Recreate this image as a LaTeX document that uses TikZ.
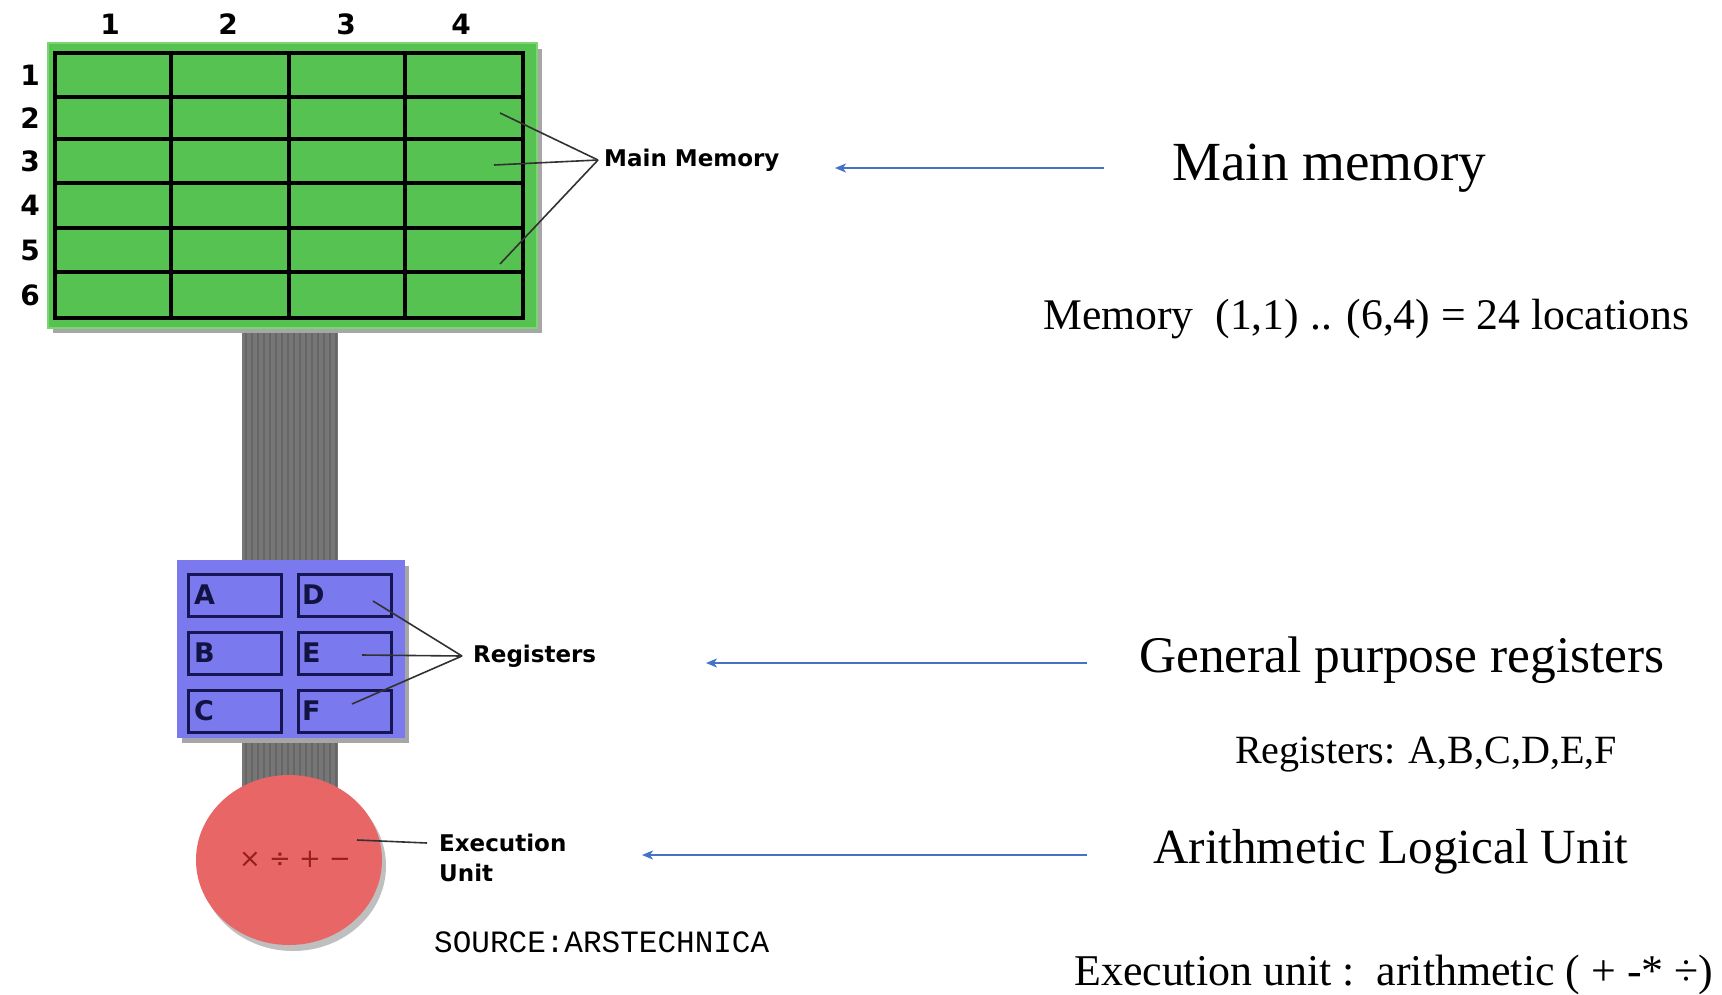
\documentclass[tikz,border=0pt]{standalone}
\usepackage{fontspec}
\usepackage{graphicx}
\setmainfont{Liberation Serif}
\newfontfamily\dvs{DejaVu Sans}
\newfontfamily\monof{Liberation Mono}
\usetikzlibrary{arrows.meta,shapes.geometric}
\definecolor{memgreen}{RGB}{86,194,82}
\definecolor{memborder}{RGB}{125,212,115}
\definecolor{regblue}{RGB}{122,122,238}
\definecolor{cellborder}{RGB}{22,22,84}
\definecolor{alured}{RGB}{232,102,102}
\definecolor{symred}{RGB}{150,30,30}
\definecolor{arrowblue}{RGB}{68,114,196}
\definecolor{busgray}{RGB}{118,118,118}
\definecolor{leadergray}{RGB}{50,50,50}
\begin{document}
\begin{tikzpicture}[x=1pt,y=-1pt,
  memblock/.style={draw=memborder, line width=2pt, fill=memgreen, minimum width=489pt, minimum height=285pt, inner sep=0},
  gridline/.style={line width=3.5pt, black},
  num/.style={font=\dvs\bfseries\fontsize{28}{32}\selectfont, inner sep=0},
  lbl/.style={font=\dvs\bfseries\fontsize{23}{30}\selectfont, inner sep=0, anchor=west},
  leader/.style={leadergray, line width=1.6pt},
  bluearrow/.style={draw=arrowblue, line width=1.8pt, -{Stealth[length=11pt,width=9pt,inset=3pt]}},
  rt/.style={inner sep=0, anchor=base west},
  regbox/.style={fill=regblue, minimum width=228pt, minimum height=178pt, inner sep=0},
  cell/.style={draw=cellborder, line width=3pt, minimum width=93pt, minimum height=42pt, inner sep=0},
  letter/.style={font=\dvs\bfseries\fontsize{27}{30}\selectfont, text=cellborder!80!black, inner sep=0, anchor=west},
  busstripe/.style={draw=black!60, line width=1.4pt},
  alu/.style={ellipse, fill=alured, minimum width=186pt, minimum height=170pt, inner sep=0},
  sym/.style={font=\dvs\fontsize{26}{30}\selectfont, text=symred, inner sep=0}
]
\useasboundingbox (0,0) rectangle (1722,994);
% bus
\fill[busgray] (242,327) rectangle (338,790);
\foreach \i in {0,...,15} \draw[busstripe] ({246+6*\i},327) -- ({246+6*\i},790);
% main memory
\fill[black!35] (53,49) rectangle (542,333);
\node[memblock, anchor=north west] (mem) at (47,42) {};
\draw[gridline] (55,53) rectangle (523,318);
\foreach \x in {171,289,405} \draw[gridline] (\x,53) -- (\x,318);
\foreach \y in {97,139,183,228,272} \draw[gridline] (55,\y) -- (523,\y);
\foreach \n/\x in {1/110,2/228,3/346,4/461} \node[num] (c\n) at (\x,24) {\n};
\foreach \n/\y in {1/75,2/118,3/161,4/205,5/250,6/295} \node[num] (r\n) at (30,\y) {\n};
\node[lbl] (mml) at (604,160) {Main Memory};
\coordinate (mmc) at (598,160);
\coordinate (m2) at (500,113);
\coordinate (m3) at (494,165);
\coordinate (m5) at (500,264);
\draw[leader] (mmc) -- (m2);
\draw[leader] (mmc) -- (m3);
\draw[leader] (mmc) -- (m5);
% registers
\fill[black!35] (182,566) rectangle (409,743);
\node[regbox, anchor=north west] (reg) at (177,560) {};
\node[cell, anchor=north west] (ca) at (187,573) {};
\node[cell, anchor=north west] (cd) at (297,573) {};
\node[cell, anchor=north west] (cb) at (187,631) {};
\node[cell, anchor=north west] (ce) at (297,631) {};
\node[cell, anchor=north west] (cc) at (187,689) {};
\node[cell, anchor=north west] (cf) at (297,689) {};
\node[letter] (la) at ([xshift=7pt,yshift=1pt]ca.west) {A};
\node[letter] (ld) at ([xshift=5pt,yshift=1pt]cd.west) {D};
\node[letter] (lb) at ([xshift=7pt,yshift=1pt]cb.west) {B};
\node[letter] (le) at ([xshift=5pt,yshift=1pt]ce.west) {E};
\node[letter] (lc) at ([xshift=7pt,yshift=1pt]cc.west) {C};
\node[letter] (lf) at ([xshift=5pt,yshift=1pt]cf.west) {F};
\node[lbl] (rl) at (473,656) {Registers};
\coordinate (rc) at (462,656);
\coordinate (rd) at (373,601);
\coordinate (re) at (362,655);
\coordinate (rf) at (352,704);
\draw[leader] (rc) -- (rd);
\draw[leader] (rc) -- (re);
\draw[leader] (rc) -- (rf);
% ALU
\fill[black!25] (293,866) ellipse (93pt and 85pt);
\node[alu] (alu) at (289,860) {};
\node[sym] (ops) at (295,859) {×\ ÷\ +\ −};
\node[lbl, align=left, anchor=north west] (eul) at (439,834) {Execution\\Unit};
\coordinate (e1) at (357,840);
\coordinate (e2) at (427,843);
\draw[leader] (e1) -- (e2);
\node[inner sep=0, anchor=west, font=\monof] (src) at (434,942) {\resizebox{335pt}{!}{SOURCE:ARSTECHNICA}};
% right side texts
\node[rt] (t1) at (1172,180) {\resizebox{314pt}{!}{Main memory}};
\node[rt] (t2) at (1043,329) {\resizebox{646pt}{!}{Memory\ \ (1,1) .. (6,4) = 24 locations}};
\node[rt] (t3) at (1139,672) {\resizebox{525pt}{!}{General purpose registers}};
\node[rt] (t4) at (1235,763) {\resizebox{382pt}{!}{Registers: A,B,C,D,E,F}};
\node[rt] (t5) at (1153,863) {\resizebox{475pt}{!}{Arithmetic Logical Unit}};
\node[rt] (t6) at (1074,985) {\resizebox{639pt}{!}{Execution unit :\ \ arithmetic ( + -* ÷)}};
% arrows
\coordinate (a1s) at (1104,168);
\coordinate (a1e) at (835,168);
\coordinate (a2s) at (1087,663);
\coordinate (a2e) at (706,663);
\coordinate (a3s) at (1087,855);
\coordinate (a3e) at (642,855);
\draw[bluearrow] (a1s) -- (a1e);
\draw[bluearrow] (a2s) -- (a2e);
\draw[bluearrow] (a3s) -- (a3e);
\end{tikzpicture}
\end{document}
